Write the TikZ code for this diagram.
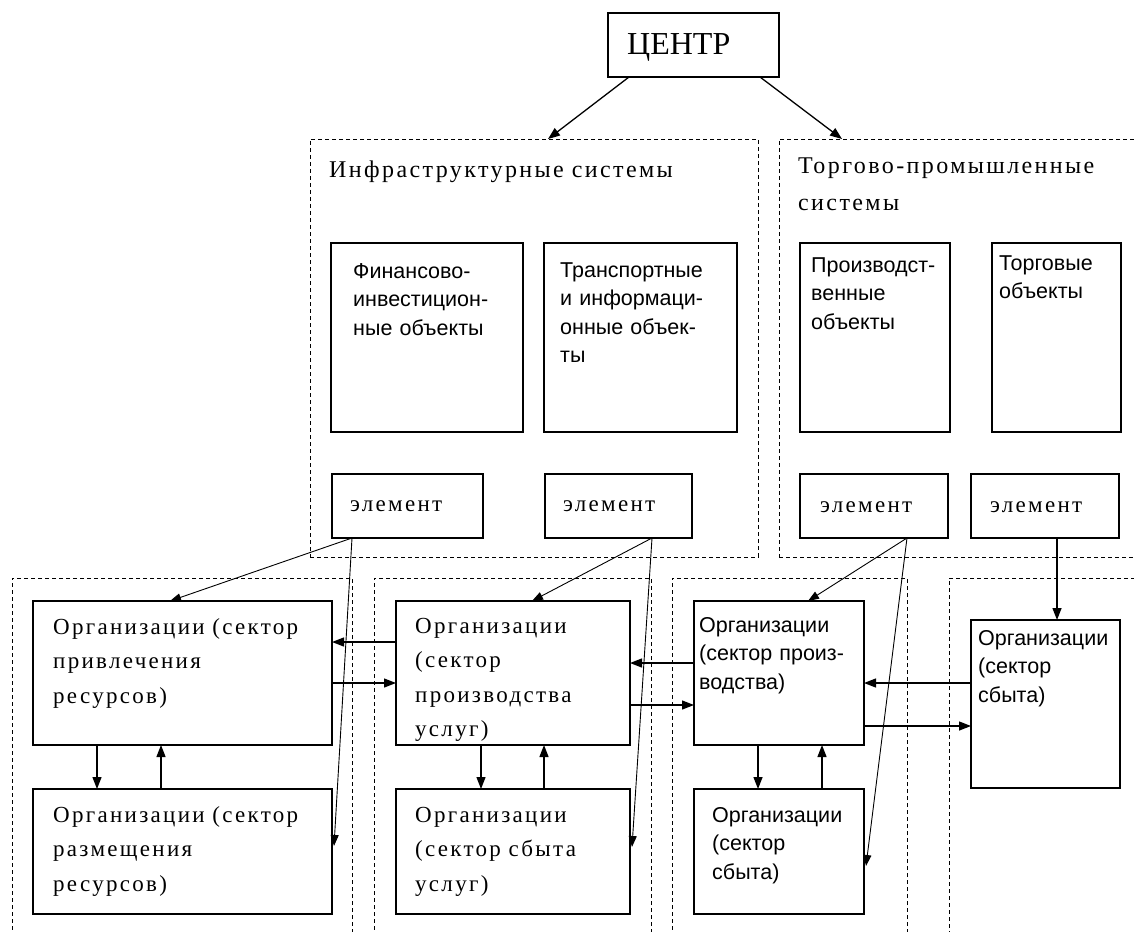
\documentclass[tikz,border=0pt]{standalone}
\usepackage{fontspec}
\setmainfont{Liberation Serif}
\newfontfamily\spser[LetterSpace=10,WordSpace=1.6]{Liberation Serif}
\newfontfamily\sansf{Liberation Sans}
\usetikzlibrary{arrows.meta,calc}
\begin{document}
\begin{tikzpicture}[x=1pt,y=-1pt,
  box/.style={draw, line width=1.3pt, inner sep=0pt, outer sep=0pt, anchor=north west},
  dbox/.style={draw, line width=1pt, dash pattern=on 4pt off 3pt, inner sep=0pt, outer sep=0pt, anchor=north west},
  sertxt/.style={anchor=base west, inner sep=0pt, text width=320pt, align=left, font=\spser\fontsize{23}{34.5}\selectfont},
  titletxt/.style={anchor=base west, inner sep=0pt, text width=420pt, align=left, font=\spser\fontsize{24}{37}\selectfont},
  sanstxt/.style={anchor=base west, inner sep=0pt, text width=200pt, align=left, font=\sansf\fontsize{21.5}{28.5}\selectfont},
  arr/.style={line width=1.3pt, -{Triangle[length=12pt,width=9pt]}},
  thinarr/.style={line width=0.9pt, -{Triangle[length=11pt,width=8pt]}}
]
\useasboundingbox (0,0) rectangle (1134,931);
\fill[white] (0,0) rectangle (1134,931);
\clip (0,0) rectangle (1134,931);

% dashed groups
\node[dbox, minimum width=448pt, minimum height=418pt] (infra) at (310,139) {};
\node[dbox, minimum width=371pt, minimum height=418pt] (torg) at (779,139) {};
\node[dbox, minimum width=340pt, minimum height=372pt] (low1) at (12,578) {};
\node[dbox, minimum width=277pt, minimum height=372pt] (low2) at (374,578) {};
\node[dbox, minimum width=235pt, minimum height=372pt] (low3) at (672,578) {};
\node[dbox, minimum width=201pt, minimum height=372pt] (low4) at (949,578) {};

% centre
\node[box, minimum width=171pt, minimum height=64pt] (centr) at (608,13) {};
\node[anchor=base west, inner sep=0pt, font=\fontsize{32}{32}\selectfont] (tcentr) at (627,55) {ЦЕНТР};

% titles
\node[titletxt] (tinfra) at (329,177) {Инфраструктурные системы};
\node[titletxt] (ttorg) at (798,173) {Торгово-промышленные\\системы};

% object boxes
\node[box, minimum width=192pt, minimum height=189pt] (fin) at (331,243) {};
\node[box, minimum width=193pt, minimum height=189pt] (tran) at (544,243) {};
\node[box, minimum width=150pt, minimum height=189pt] (proizv) at (800,243) {};
\node[box, minimum width=129pt, minimum height=189pt] (torgov) at (992,243) {};
\node[sanstxt] (tfin) at (353,278) {Финансово-\\инвестицион-\\ные объекты};
\node[sanstxt] (ttran) at (560,277) {Транспортные\\и информаци-\\онные объек-\\ты};
\node[sanstxt] (tproizv) at (811,272) {Производст-\\венные\\объекты};
\node[sanstxt] (ttorgov) at (999,270) {Торговые\\объекты};

% element boxes
\node[box, minimum width=151pt, minimum height=64pt] (el1) at (332,474) {};
\node[box, minimum width=147pt, minimum height=64pt] (el2) at (545,474) {};
\node[box, minimum width=148pt, minimum height=64pt] (el3) at (800,474) {};
\node[box, minimum width=148pt, minimum height=64pt] (el4) at (971,474) {};
\node[sertxt] (tel1) at (350,511) {элемент};
\node[sertxt] (tel2) at (563,511) {элемент};
\node[sertxt] (tel3) at (820,512) {элемент};
\node[sertxt] (tel4) at (990,512) {элемент};

% organisations
\node[box, minimum width=299pt, minimum height=144pt] (orgA) at (33,601) {};
\node[box, minimum width=299pt, minimum height=125pt] (orgB) at (33,789) {};
\node[box, minimum width=234pt, minimum height=144pt] (orgC) at (396,601) {};
\node[box, minimum width=234pt, minimum height=125pt] (orgD) at (396,789) {};
\node[box, minimum width=170pt, minimum height=144pt] (orgE) at (694,601) {};
\node[box, minimum width=170pt, minimum height=125pt] (orgF) at (694,789) {};
\node[box, minimum width=149pt, minimum height=168pt] (orgG) at (971,620) {};

\node[sertxt] (tA) at (53,634) {Организации (сектор\\привлечения\\ресурсов)};
\node[sertxt] (tB) at (53,822) {Организации (сектор\\размещения\\ресурсов)};
\begin{scope}
  \clip (orgC.north west) rectangle (orgC.south east);
  \node[sertxt] (tC) at (415,633) {Организации\\(сектор\\производства\\услуг)};
\end{scope}
\node[sertxt] (tD) at (415,822) {Организации\\(сектор сбыта\\услуг)};
\node[sanstxt] (tE) at (699,632) {Организации\\(сектор произ-\\водства)};
\node[sanstxt] (tF) at (712,822) {Организации\\(сектор\\сбыта)};
\node[sanstxt] (tG) at (978,645) {Организации\\(сектор\\сбыта)};

% connectors from centre
\draw[arr] ($(centr.south west)+(21,0)$) -- ($(infra.north west)+(238,0)$);
\draw[arr] ($(centr.south west)+(152,0)$) -- ($(torg.north west)+(63,0)$);

% connectors from elements
\coordinate (s1) at ($(el1.south west)+(20,0)$);
\coordinate (s2) at ($(el2.south west)+(107,0)$);
\coordinate (s3) at ($(el3.south west)+(107,0)$);
\draw[thinarr] (s1) -- ($(orgA.north west)+(137,0)$);
\draw[thinarr] (s1) -- ($(orgB.north east)+(2,57)$);
\draw[thinarr] (s2) -- ($(orgC.north west)+(136,0)$);
\draw[thinarr] (s2) -- ($(orgD.north east)+(2,58)$);
\draw[thinarr] (s3) -- ($(orgE.north west)+(114,0)$);
\draw[thinarr] (s3) -- ($(orgF.north east)+(2,77)$);
\draw[arr] ($(el4.south west)+(86,0)$) -- ($(orgG.north west)+(86,0)$);

% horizontal connectors
\draw[arr] ($(orgC.north west)+(0,41)$) -- ($(orgA.north east)+(0,41)$);
\draw[arr] ($(orgA.north east)+(0,82)$) -- ($(orgC.north west)+(0,82)$);
\draw[arr] ($(orgE.north west)+(0,62)$) -- ($(orgC.north east)+(0,62)$);
\draw[arr] ($(orgC.north east)+(0,104)$) -- ($(orgE.north west)+(0,104)$);
\draw[arr] ($(orgG.north west)+(0,63)$) -- ($(orgE.north east)+(0,82)$);
\draw[arr] ($(orgE.north east)+(0,125)$) -- ($(orgG.north west)+(0,106)$);

% vertical connectors
\draw[arr] ($(orgA.south west)+(64,0)$) -- ($(orgB.north west)+(64,0)$);
\draw[arr] ($(orgB.north west)+(128,0)$) -- ($(orgA.south west)+(128,0)$);
\draw[arr] ($(orgC.south west)+(85,0)$) -- ($(orgD.north west)+(85,0)$);
\draw[arr] ($(orgD.north west)+(148,0)$) -- ($(orgC.south west)+(148,0)$);
\draw[arr] ($(orgE.south west)+(64,0)$) -- ($(orgF.north west)+(64,0)$);
\draw[arr] ($(orgF.north west)+(128,0)$) -- ($(orgE.south west)+(128,0)$);
\end{tikzpicture}
\end{document}
